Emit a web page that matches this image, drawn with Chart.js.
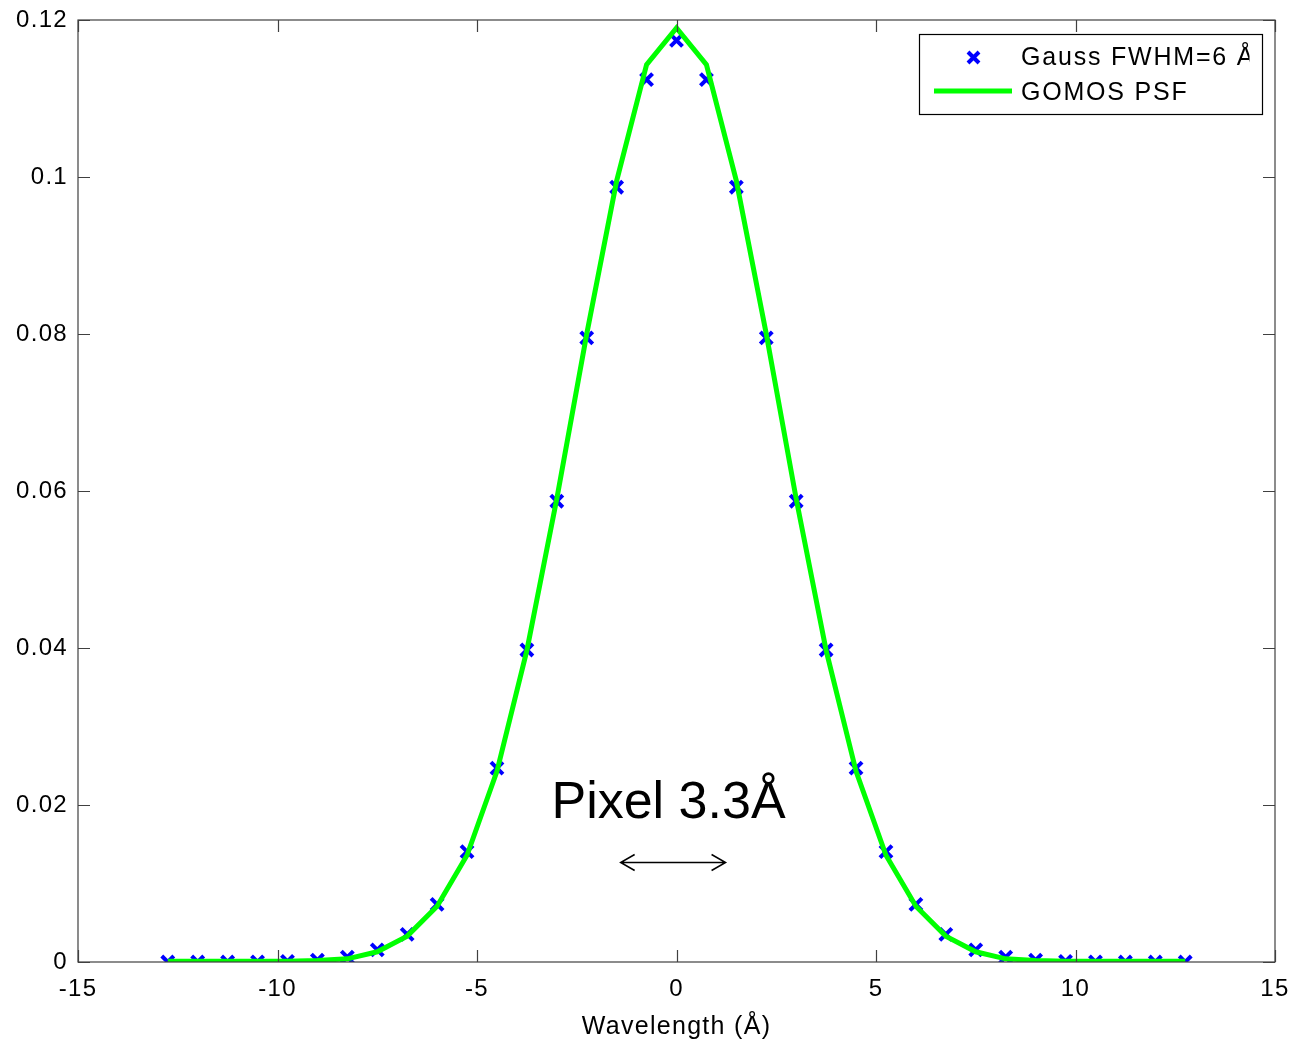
<!DOCTYPE html>
<html>
<head>
<meta charset="utf-8">
<script src="https://cdn.jsdelivr.net/npm/chart.js@4"></script>
<style>
  html, body { margin: 0; padding: 0; background: #fff; }
  #wrap { width: 1295px; height: 1046px; }
</style>
</head>
<body>
<div id="wrap"><canvas id="psf" width="1295" height="1046"></canvas></div>
<script>
// wavelength offsets (Angstrom), one sample every 0.75 A
const wavelength = [-12.75, -12, -11.25, -10.5, -9.75, -9, -8.25, -7.5, -6.75, -6, -5.25, -4.5, -3.75, -3, -2.25, -1.5, -0.75,
  0, 0.75, 1.5, 2.25, 3, 3.75, 4.5, 5.25, 6, 6.75, 7.5, 8.25, 9, 9.75, 10.5, 11.25, 12, 12.75];
// blue crosses
const gaussValues = [0, 0, 0, 0.00002, 0.00008, 0.00023, 0.00062, 0.00154, 0.00351, 0.00734, 0.01406, 0.02469, 0.03975, 0.0587, 0.0795, 0.0987, 0.1124,
  0.1174, 0.1124, 0.0987, 0.0795, 0.0587, 0.03975, 0.02469, 0.01406, 0.00734, 0.00351, 0.00154, 0.00062, 0.00023, 0.00008, 0.00002, 0, 0, 0];
// green line
const gomosValues = [0.0001, 0.0001, 0.0001, 0.0001, 0.0001, 0.0002, 0.0004, 0.0013, 0.0033, 0.0071, 0.0136, 0.0243, 0.0397, 0.0590, 0.0800, 0.0995, 0.1143,
  0.1190, 0.1143, 0.0995, 0.0800, 0.0590, 0.0397, 0.0243, 0.0136, 0.0071, 0.0033, 0.0013, 0.0004, 0.0002, 0.0001, 0.0001, 0.0001, 0.0001, 0.0001];
const xTicks = [-15, -10, -5, 0, 5, 10, 15];
const yTicks = [0, 0.02, 0.04, 0.06, 0.08, 0.1, 0.12];
const seriesLabels = ['Gauss FWHM=6 Å', 'GOMOS PSF'];

const FONT = "'Liberation Sans', Arial, sans-serif";

// box round the axes, with inward ticks on all four sides
const boxPlugin = {
  id: 'box',
  beforeDraw(chart) {
    chart.ctx.letterSpacing = '1.3px';
  },
  afterDatasetsDraw(chart) {
    const { ctx, chartArea: a, scales } = chart;
    ctx.save();
    ctx.strokeStyle = '#404040';
    ctx.lineWidth = 1.2;
    ctx.strokeRect(a.left, a.top, a.right - a.left, a.bottom - a.top);
    const len = 12;
    ctx.beginPath();
    xTicks.forEach(v => {
      const px = Math.round(scales.x.getPixelForValue(v)) + 0.5;
      ctx.moveTo(px, a.bottom); ctx.lineTo(px, a.bottom - len);
      ctx.moveTo(px, a.top); ctx.lineTo(px, a.top + len);
    });
    yTicks.forEach(v => {
      const py = Math.round(scales.y.getPixelForValue(v)) + 0.5;
      ctx.moveTo(a.left, py); ctx.lineTo(a.left + len, py);
      ctx.moveTo(a.right, py); ctx.lineTo(a.right - len, py);
    });
    ctx.stroke();
    ctx.restore();
  },
  afterDraw(chart) {
    const { ctx, scales } = chart;
    const sx = scales.x, sy = scales.y;
    ctx.save();
    ctx.letterSpacing = '0px';

    // annotation
    ctx.fillStyle = '#000';
    ctx.font = '52px ' + FONT;
    ctx.textAlign = 'center';
    ctx.textBaseline = 'alphabetic';
    ctx.fillText('Pixel 3.3Å', sx.getPixelForValue(-0.2), sy.getPixelForValue(0.0183));

    const x1 = sx.getPixelForValue(-1.4), x2 = sx.getPixelForValue(1.23);
    const ya = Math.round(sy.getPixelForValue(0.0127)) + 0.5;
    ctx.strokeStyle = '#000';
    ctx.lineWidth = 1.5;
    ctx.beginPath();
    ctx.moveTo(x1, ya); ctx.lineTo(x2, ya);
    ctx.moveTo(x1 + 14, ya - 8); ctx.lineTo(x1, ya); ctx.lineTo(x1 + 14, ya + 8);
    ctx.moveTo(x2 - 14, ya - 8); ctx.lineTo(x2, ya); ctx.lineTo(x2 - 14, ya + 8);
    ctx.stroke();

    // legend
    const lx = 919.5, ly = 34.5, lw = 343, lh = 80;
    ctx.fillStyle = '#fff';
    ctx.fillRect(lx, ly, lw, lh);
    ctx.strokeStyle = '#000';
    ctx.lineWidth = 1.2;
    ctx.strokeRect(lx, ly, lw, lh);

    // cross marker
    ctx.strokeStyle = '#0000ff';
    ctx.lineWidth = 4;
    ctx.beginPath();
    ctx.moveTo(968, 52); ctx.lineTo(979, 63);
    ctx.moveTo(979, 52); ctx.lineTo(968, 63);
    ctx.stroke();
    // line sample
    ctx.strokeStyle = '#00ff00';
    ctx.lineWidth = 5;
    ctx.beginPath();
    ctx.moveTo(934, 91); ctx.lineTo(1012, 91);
    ctx.stroke();

    ctx.save();
    ctx.beginPath();
    ctx.rect(lx, ly, 330, lh);
    ctx.clip();
    ctx.fillStyle = '#000';
    ctx.font = '25px ' + FONT;
    ctx.letterSpacing = '1.8px';
    ctx.textAlign = 'left';
    ctx.textBaseline = 'middle';
    ctx.fillText(seriesLabels[0], 1021, 58);
    ctx.fillText(seriesLabels[1], 1021, 93);
    ctx.restore();

    ctx.restore();
  }
};

new Chart(document.getElementById('psf'), {
  type: 'line',
  data: {
    datasets: [
      {
        label: seriesLabels[1],
        data: wavelength.map((x, i) => ({ x: x, y: gomosValues[i] })),
        borderColor: '#00ff00',
        borderWidth: 5,
        pointRadius: 0,
        tension: 0,
        fill: false,
        order: 0
      },
      {
        label: seriesLabels[0],
        data: wavelength.map((x, i) => ({ x: x, y: gaussValues[i] })),
        showLine: false,
        pointStyle: 'crossRot',
        pointRadius: 8.5,
        borderColor: '#0000ff',
        backgroundColor: '#0000ff',
        pointBorderWidth: 4,
        order: 1
      }
    ]
  },
  options: {
    responsive: false,
    animation: false,
    events: [],
    layout: { padding: { top: 20, right: 20, left: 0, bottom: 0 } },
    plugins: {
      legend: { display: false },
      tooltip: { enabled: false }
    },
    scales: {
      x: {
        type: 'linear',
        min: -15,
        max: 15,
        afterBuildTicks: s => { s.ticks = xTicks.map(v => ({ value: v })); },
        afterFit: s => { s.height = 84; s.paddingLeft = 0; s.paddingRight = 0; },
        grid: { display: false, drawTicks: false },
        border: { display: false },
        ticks: {
          color: '#000',
          padding: 13,
          maxRotation: 0,
          font: { family: FONT, size: 24 }
        },
        title: {
          display: true,
          text: 'Wavelength (Å)',
          color: '#000',
          font: { family: FONT, size: 25 },
          padding: { top: 0, bottom: 4 }
        }
      },
      y: {
        type: 'linear',
        min: 0,
        max: 0.12,
        afterBuildTicks: s => { s.ticks = yTicks.map(v => ({ value: v })); },
        afterFit: s => { s.width = 78; s.paddingTop = 0; s.paddingBottom = 0; },
        grid: { display: false, drawTicks: false },
        border: { display: false },
        ticks: {
          color: '#000',
          padding: 10,
          font: { family: FONT, size: 24 },
          callback: v => String(Number(v.toFixed(2)))
        }
      }
    }
  },
  plugins: [boxPlugin]
});
</script>
</body>
</html>
